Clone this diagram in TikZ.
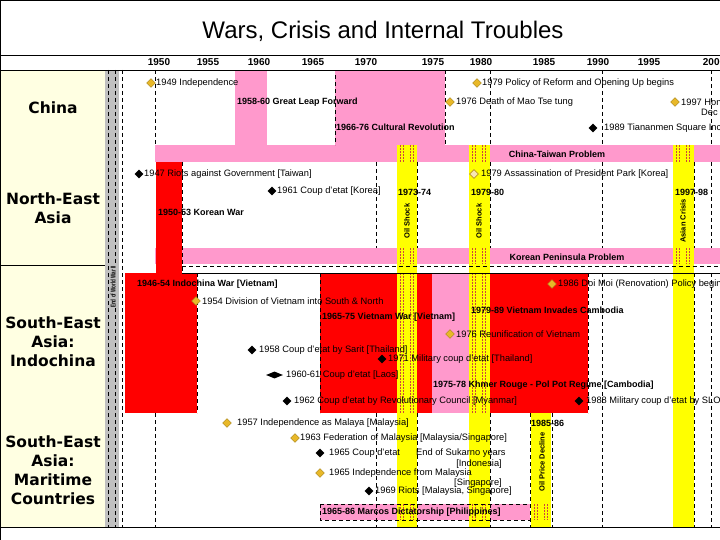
\documentclass[tikz,border=0pt]{standalone}
\usepackage{fontspec}
\setmainfont{Liberation Sans}
\newfontfamily\labfont{DejaVu Sans}
\usetikzlibrary{shapes.geometric}
\definecolor{pinkbar}{RGB}{255,153,204}
\definecolor{redbar}{RGB}{255,0,0}
\definecolor{yelbar}{RGB}{255,255,0}
\definecolor{graybar}{RGB}{192,192,192}
\definecolor{golddia}{RGB}{232,184,40}
\definecolor{cream}{RGB}{255,255,226}
\definecolor{stripe}{RGB}{205,70,60}
\newcommand\stripebox[4]{%
  \fill[yelbar] (#1,#3) rectangle (#2,#4);
  \foreach \o in {3,6.5,13,16.5}{\draw[stripe,line width=0.7pt,dash pattern=on 2pt off 1pt] (#1+\o,#3) -- (#1+\o,#4);}
}
\begin{document}
\begin{tikzpicture}[x=1pt,y=-1pt,
  ev/.style={anchor=west,inner sep=0pt,font=\fontsize{9.3}{10}\selectfont},
  bev/.style={anchor=west,inner sep=0pt,font=\bfseries\fontsize{9}{10}\selectfont},
  cbev/.style={inner sep=0pt,font=\bfseries\fontsize{9}{10}\selectfont},
  yr/.style={inner sep=0pt,font=\bfseries\fontsize{10}{11}\selectfont},
  rowlab/.style={align=center,inner sep=0pt,font=\labfont\bfseries\fontsize{15.5}{19}\selectfont},
  vlab/.style={rotate=90,inner sep=0pt,font=\bfseries\fontsize{7.5}{8}\selectfont},
  gdia/.style={diamond,fill=golddia,draw=golddia!70!black,line width=0.3pt,inner sep=0pt,minimum size=9pt},
  bdia/.style={diamond,fill=black,inner sep=0pt,minimum size=9pt},
  gridl/.style={dash pattern=on 4pt off 3pt,line width=0.6pt},
]
\useasboundingbox (0,0) rectangle (720,540);
\clip (0,0) rectangle (720,540);
% backgrounds
\fill[white] (0,0) rectangle (720,540);
\fill[cream] (0,70) rectangle (105,527);
\fill[graybar] (105,70) rectangle (119,527);
% pink and red bars
\fill[pinkbar] (235,70) rectangle (267,145);
\fill[pinkbar] (335,70) rectangle (445,145);
\fill[pinkbar] (155,145) rectangle (720,162);
\fill[pinkbar] (155,248) rectangle (720,264);
\fill[redbar] (156,162) rectangle (182,273);
\fill[redbar] (125,273) rectangle (197,413);
\fill[redbar] (320,273) rectangle (432,413);
\fill[pinkbar] (432,273) rectangle (469,413);
\fill[redbar] (469,273) rectangle (588,413);
\fill[pinkbar] (320,504) rectangle (530,520);
% yellow bars
\fill[yelbar] (397,145) rectangle (417,527);
\fill[yelbar] (469,145) rectangle (490,527);
\fill[yelbar] (531,413) rectangle (551,527);
\fill[yelbar] (673,145) rectangle (694,527);
\foreach \a/\b in {145/162,248/264,273/413,504/520}{
  \stripebox{397}{417}{\a}{\b}
  \stripebox{469}{490}{\a}{\b}
}
\stripebox{531}{551}{504}{520}
\foreach \a/\b in {145/162,248/264}{\stripebox{673}{694}{\a}{\b}}
\draw[gridl] (320,504) rectangle (530,520);
% grid lines
\foreach \x in {108,115,122}{\draw[gridl] (\x,70) -- (\x,527);}
\draw[gridl] (155,70) -- (155,145);
\draw[gridl] (335,75) -- (335,145);
\foreach \x in {445,490,602,711}{\draw[gridl] (\x,70) -- (\x,145);}
\draw[gridl] (182,162) -- (182,273);
\foreach \x in {376,417,490,602,694,711}{\draw[gridl] (\x,162) -- (\x,248);}
\draw[gridl] (182,266) -- (720,266);
\foreach \x in {197,320,588,602,694,711}{\draw[gridl] (\x,273) -- (\x,413);}
\foreach \x in {155,376,417,490,530,552,602,694,711}{\draw[gridl] (\x,413) -- (\x,527);}
% frame lines
\draw[line width=0.8pt] (0.4,540) -- (0.4,0.4) -- (720,0.4);
\draw[line width=0.8pt] (0,55) -- (720,55);
\draw[line width=0.8pt] (0,70) -- (720,70);
\draw[line width=0.6pt] (0,265) -- (105,265);
\draw[line width=0.6pt] (182,273) -- (720,273);
\draw[line width=0.8pt] (0,527) -- (720,527);
% title and years
\node[font=\fontsize{24}{28}\selectfont] (title) at (383,31) {Wars, Crisis and Internal Troubles};
\foreach \x/\y in {159/1950,208/1955,259/1960,313/1965,366/1970,433/1975,481/1980,544/1985,598/1990,649/1995,714/2000}{
  \node[yr] (y\y) at (\x,62) {\y};
}
% row labels
\node[rowlab] (lchina) at (53,108) {China};
\node[rowlab] (lnea) at (53,208) {North-East\\Asia};
\node[rowlab] (lindo) at (53,342) {South-East\\Asia:\\Indochina};
\node[rowlab] (lmar) at (53,470) {South-East\\Asia:\\Maritime\\Countries};
\node[fill=graybar,rotate=90,inner sep=0.5pt,font=\bfseries\fontsize{7}{7}\selectfont] (ww2) at (113,287) {\scalebox{0.65}[1]{End of World War II}};
% China
\node[gdia] (d1) at (151,83) {};
\node[ev] (t1) at (156,83) {1949 Independence};
\node[gdia] (d2) at (477,83) {};
\node[ev] (t2) at (482,83) {1979 Policy of Reform and Opening Up begins};
\node[gdia] (d3) at (450,102) {};
\node[ev] (t3) at (456,102) {1976 Death of Mao Tse tung};
\node[gdia] (d4) at (675,102) {};
\node[ev] (t4) at (681,102) {1997 Hon};
\node[ev] (t4b) at (701,112) {Dec};
\node[bdia] (d5) at (593,128) {};
\node[ev] (t5) at (604,128) {1989 Tiananmen Square Incident};
\node[bev] (g1) at (237,102) {1958-60 Great Leap Forward};
\node[bev] (g2) at (336,127) {1966-76 Cultural Revolution};
\node[cbev] (g3) at (557,154) {China-Taiwan Problem};
% North-East Asia
\node[bdia] (d6) at (139,174) {};
\node[ev] (t6) at (144,174) {1947 Riots against Government [Taiwan]};
\node[bdia] (d7) at (272,191) {};
\node[ev] (t7) at (277,191) {1961 Coup d'etat [Korea]};
\node[gdia,fill=golddia!35,draw=golddia!80!black,line width=0.6pt] (d8) at (474,174) {};
\node[ev] (t8) at (481,174) {1979 Assassination of President Park [Korea]};
\node[bev] (g4) at (158,212) {1950-53 Korean War};
\node[bev] (o1) at (398,192) {1973-74};
\node[bev] (o2) at (471,192) {1979-80};
\node[bev] (o3) at (675,192) {1997-98};
\node[vlab] (v1) at (407,221) {Oil Shock};
\node[vlab] (v2) at (479,221) {Oil Shock};
\node[vlab] (v3) at (683,221) {Asian Crisis};
\node[cbev] (g5) at (567,257) {Korean Peninsula Problem};
% Indochina
\node[bev] (g6) at (137,284) {1946-54 Indochina War [Vietnam]};
\node[gdia] (d9) at (196,301) {};
\node[ev] (t9) at (202,301) {1954 Division of Vietnam into South \& North};
\node[gdia] (d10) at (552,284) {};
\node[ev] (t10) at (558,284) {1986 Doi Moi (Renovation) Policy begins};
\node[bev] (g7) at (471,310) {1979-89 Vietnam Invades Cambodia};
\node[bev] (g8) at (322,317) {1965-75 Vietnam War [Vietnam]};
\node[gdia] (d11) at (450,334) {};
\node[ev] (t11) at (456,334) {1976 Reunification of Vietnam};
\node[bdia] (d12) at (252,350) {};
\node[ev] (t12) at (259,350) {1958 Coup d'etat by Sarit [Thailand]};
\node[bdia] (d13) at (382,359) {};
\node[ev] (t13) at (388,359) {1971 Military coup d'etat [Thailand]};
\node[diamond,fill=black,inner sep=0pt,minimum width=17pt,minimum height=7pt,aspect=2.7] (d14) at (274.5,375) {};
\node[ev] (t14) at (286,375) {1960-61 Coup d'etat [Laos]};
\node[bev] (g9) at (433,385) {1975-78 Khmer Rouge - Pol Pot Regime [Cambodia]};
\node[bdia] (d15) at (287,401) {};
\node[ev] (t15) at (294,401) {1962 Coup d'etat by Revolutionary Council [Myanmar]};
\node[bdia] (d16) at (579,401) {};
\node[ev] (t16) at (586,401) {1988 Military coup d'etat by SLORC};
% Maritime
\node[gdia] (d17) at (227,423) {};
\node[ev] (t17) at (237,423) {1957 Independence as Malaya [Malaysia]};
\node[bev] (o4) at (531,423) {1985-86};
\node[vlab] (v4) at (542,462) {Oil Price Decline};
\node[gdia] (d18) at (295,438) {};
\node[ev] (t18) at (300,438) {1963 Federation of Malaysia [Malaysia/Singapore]};
\node[bdia] (d19) at (320,453) {};
\node[ev] (t19) at (329,453) {1965 Coup d'etat};
\node[ev] (t19c) at (416,453) {End of Sukarno years};
\node[ev,anchor=east] (t19b) at (502,464) {[Indonesia]};
\node[gdia] (d20) at (320,473) {};
\node[ev] (t20) at (329,473) {1965 Independence from Malaysia};
\node[ev,anchor=east] (t20b) at (502,483) {[Singapore]};
\node[bdia] (d21) at (369,491) {};
\node[ev] (t21) at (375,491) {1969 Riots [Malaysia, Singapore]};
\node[bev] (g10) at (322,512) {1965-86 Marcos Dictatorship [Philippines]};
\end{tikzpicture}
\end{document}
